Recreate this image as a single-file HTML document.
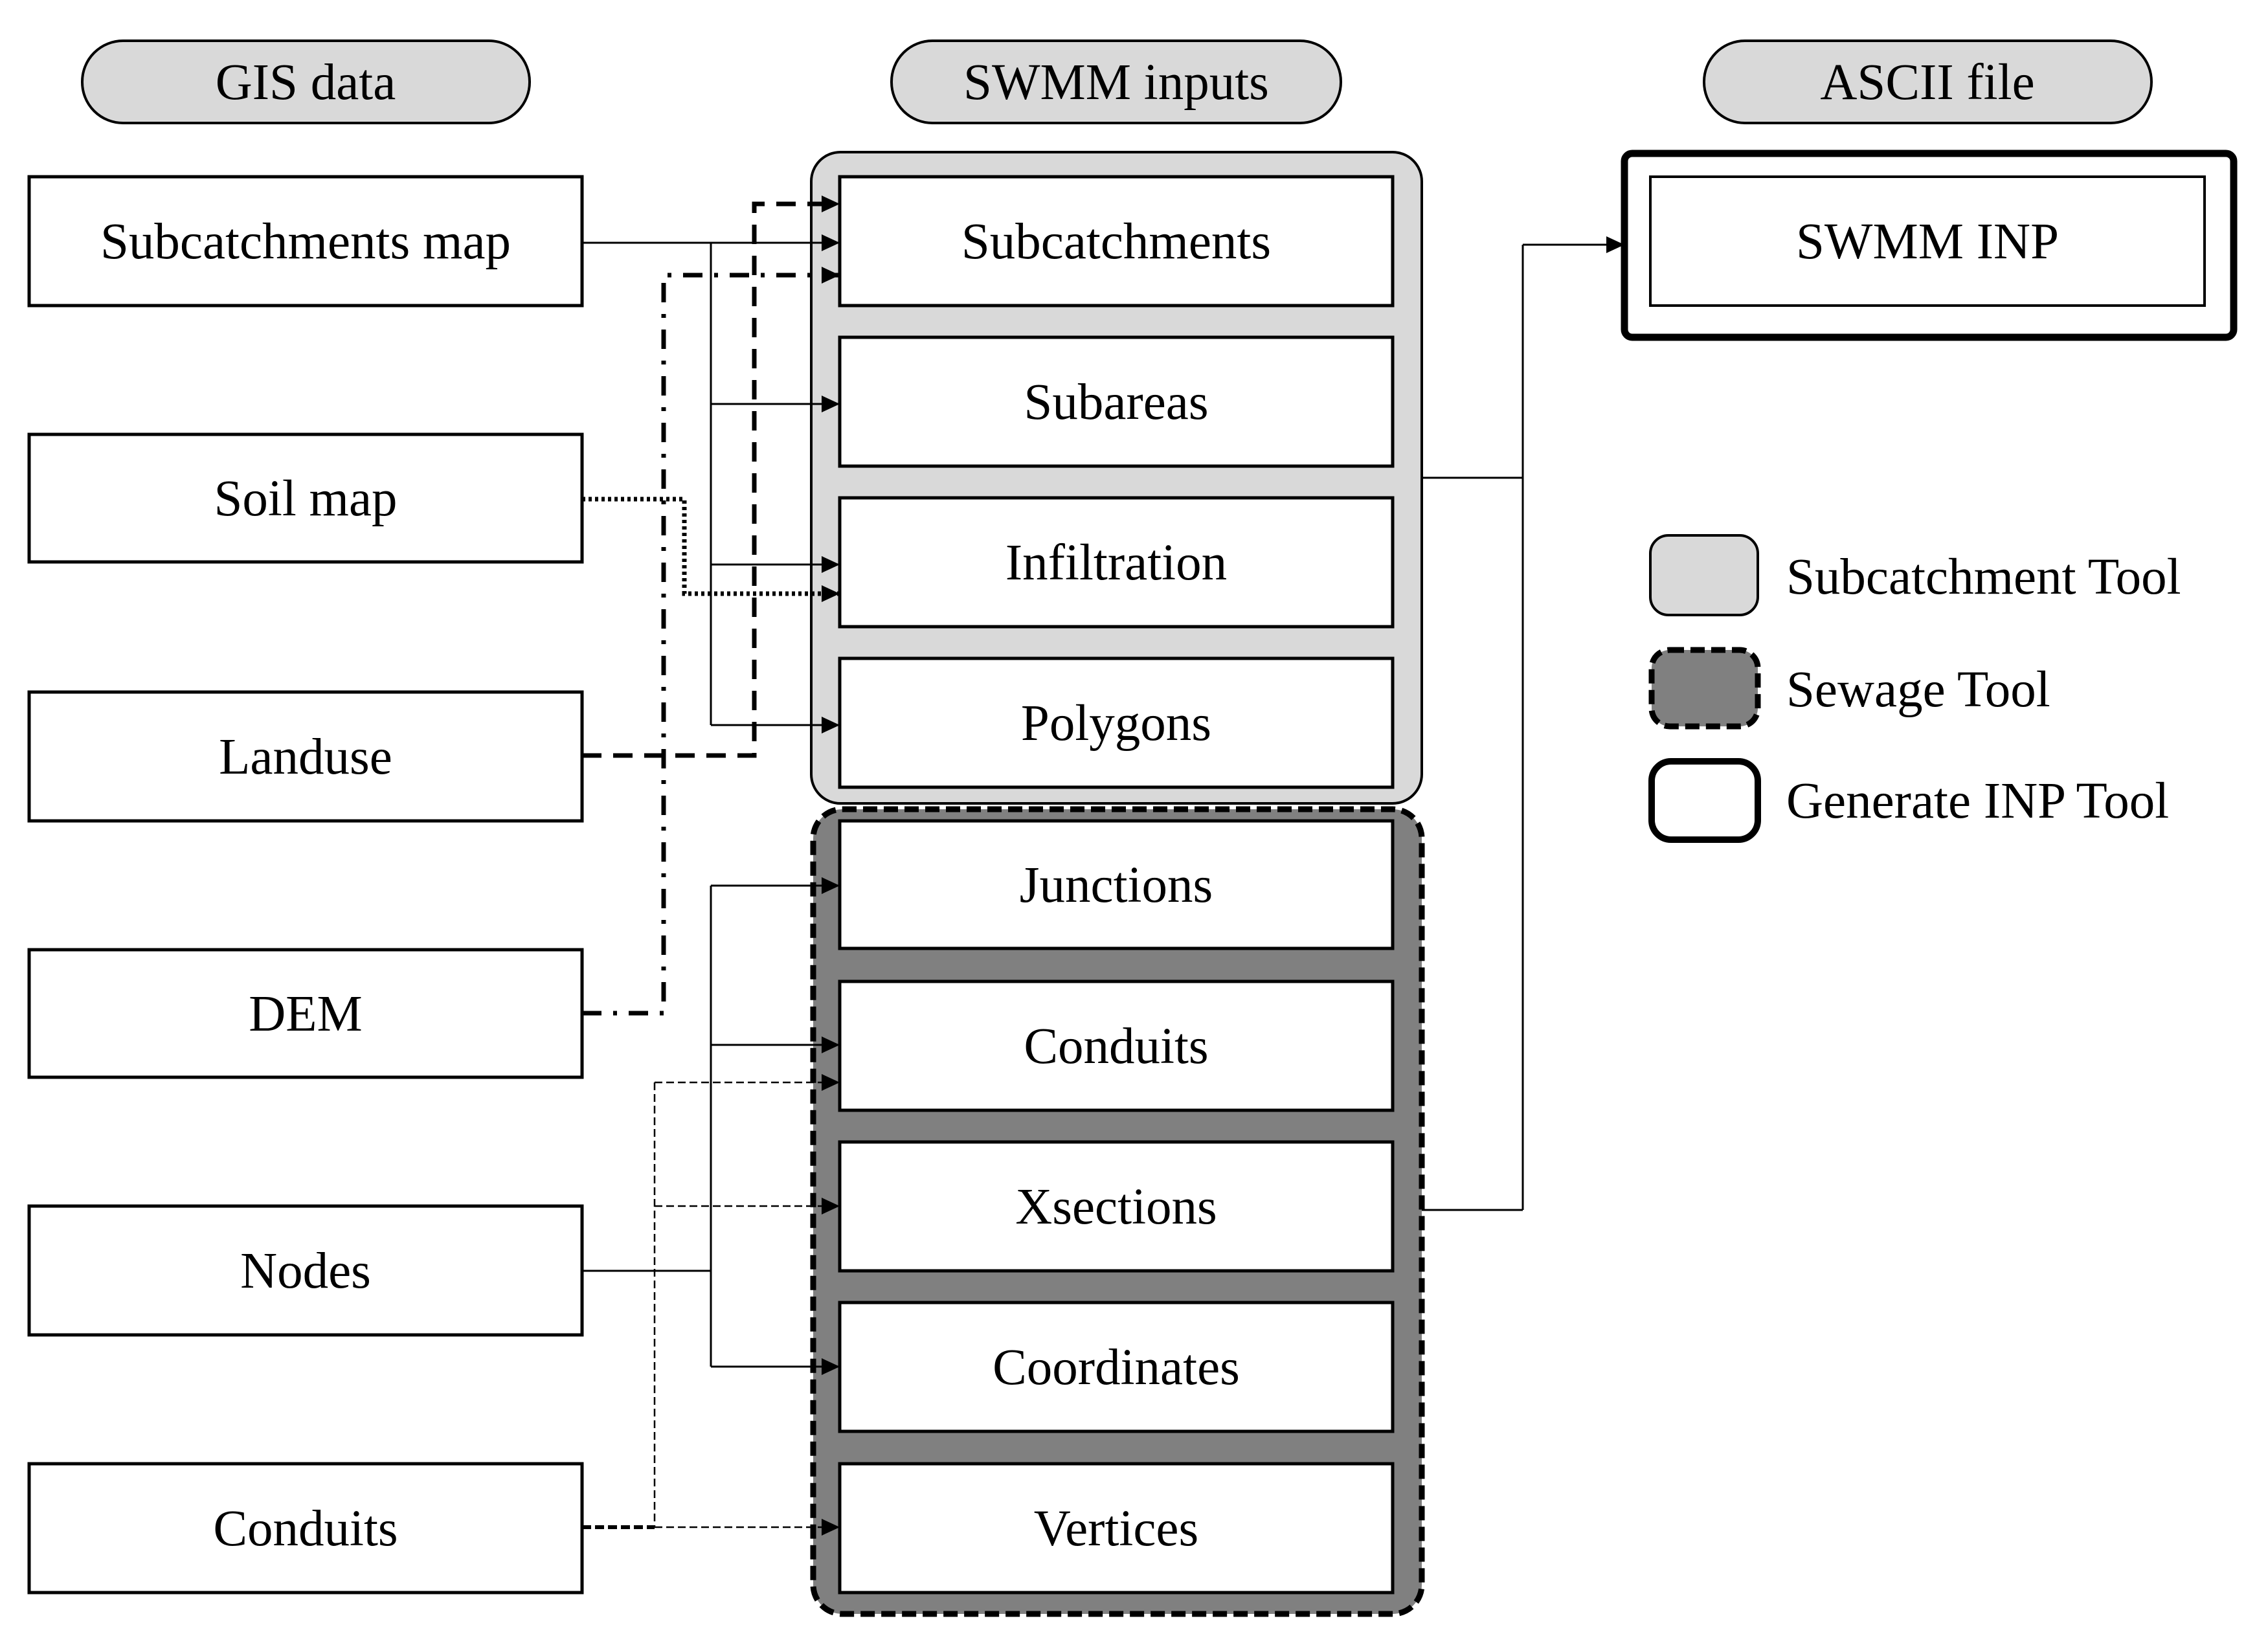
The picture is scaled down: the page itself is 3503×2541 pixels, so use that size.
<!DOCTYPE html>
<html><head><meta charset="utf-8"><style>
html,body{margin:0;padding:0;background:#fff}
svg{display:block}
text{font-family:"Liberation Serif",serif;font-size:79px;fill:#000}
</style></head><body>
<svg width="3503" height="2541" viewBox="0 0 3503 2541" xmlns="http://www.w3.org/2000/svg">
<defs>
<marker id="b" markerWidth="28" markerHeight="26" refX="28" refY="13" orient="auto" markerUnits="userSpaceOnUse"><path d="M0,0 L28,13 L0,26 z" fill="#000"/></marker>
</defs>

<rect x="127" y="63" width="691" height="127" rx="63" fill="#d9d9d9" stroke="#000" stroke-width="4"/>
<text x="472" y="153" text-anchor="middle">GIS data</text>
<rect x="1377" y="63" width="694" height="127" rx="63" fill="#d9d9d9" stroke="#000" stroke-width="4"/>
<text x="1724" y="153" text-anchor="middle">SWMM inputs</text>
<rect x="2632" y="63" width="691" height="127" rx="63" fill="#d9d9d9" stroke="#000" stroke-width="4"/>
<text x="2977" y="153" text-anchor="middle">ASCII file</text>

<g fill="#fff" stroke="#000" stroke-width="5">
<rect x="45" y="273" width="854" height="199"/>
<rect x="45" y="671" width="854" height="197"/>
<rect x="45" y="1069" width="854" height="199"/>
<rect x="45" y="1467" width="854" height="197"/>
<rect x="45" y="1863" width="854" height="199"/>
<rect x="45" y="2261" width="854" height="199"/>
</g>
<g text-anchor="middle">
<text x="472" y="399">Subcatchments map</text>
<text x="472" y="796">Soil map</text>
<text x="472" y="1195">Landuse</text>
<text x="472" y="1592">DEM</text>
<text x="472" y="1989">Nodes</text>
<text x="472" y="2387">Conduits</text>
</g>

<rect x="1253" y="235" width="943" height="1006" rx="45" fill="#d9d9d9" stroke="#000" stroke-width="4"/>
<rect x="1256" y="1250" width="940" height="1243" rx="45" fill="#808080" stroke="#000" stroke-width="9" stroke-dasharray="22,10"/>

<g fill="#fff" stroke="#000" stroke-width="5">
<rect x="1297" y="273" width="854" height="199"/>
<rect x="1297" y="521" width="854" height="199"/>
<rect x="1297" y="769" width="854" height="199"/>
<rect x="1297" y="1017" width="854" height="199"/>
<rect x="1297" y="1268" width="854" height="197"/>
<rect x="1297" y="1516" width="854" height="199"/>
<rect x="1297" y="1764" width="854" height="199"/>
<rect x="1297" y="2012" width="854" height="199"/>
<rect x="1297" y="2261" width="854" height="199"/>
</g>
<g text-anchor="middle">
<text x="1724" y="399">Subcatchments</text>
<text x="1724" y="647">Subareas</text>
<text x="1724" y="895">Infiltration</text>
<text x="1724" y="1143">Polygons</text>
<text x="1724" y="1393">Junctions</text>
<text x="1724" y="1642">Conduits</text>
<text x="1724" y="1890">Xsections</text>
<text x="1724" y="2138">Coordinates</text>
<text x="1724" y="2387">Vertices</text>
</g>

<rect x="2509" y="237" width="941" height="284" rx="12" fill="#fff" stroke="#000" stroke-width="11"/>
<rect x="2549" y="273" width="856" height="199" fill="#fff" stroke="#000" stroke-width="4"/>
<text x="2977" y="399" text-anchor="middle">SWMM INP</text>

<rect x="2549" y="827" width="166" height="123" rx="28" fill="#d9d9d9" stroke="#000" stroke-width="4"/>
<rect x="2551" y="1004" width="164" height="118" rx="28" fill="#808080" stroke="#000" stroke-width="9" stroke-dasharray="22,10"/>
<rect x="2551" y="1176" width="164" height="121" rx="30" fill="#fff" stroke="#000" stroke-width="10"/>
<text x="2759" y="917">Subcatchment Tool</text>
<text x="2759" y="1091">Sewage Tool</text>
<text x="2759" y="1263">Generate INP Tool</text>

<g fill="none" stroke="#000">
<g stroke-width="3">
<path d="M899,375 H1297" marker-end="url(#b)"/>
<path d="M1098,375 V1120"/>
<path d="M1098,624 H1297" marker-end="url(#b)"/>
<path d="M1098,872 H1297" marker-end="url(#b)"/>
<path d="M1098,1120 H1297" marker-end="url(#b)"/>
</g>
<path d="M899,1167 H1165 V315 H1297" stroke-width="7" stroke-dasharray="30,18" marker-end="url(#b)"/>
<path d="M899,1565 H1025 V425 H1297" stroke-width="7" stroke-dasharray="30,18,6,18" marker-end="url(#b)"/>
<path d="M899,771 H1057 V917 H1297" stroke-width="7" stroke-dasharray="5,5" marker-end="url(#b)"/>
<g stroke-width="3">
<path d="M899,1963 H1098"/>
<path d="M1098,1368 V2111"/>
<path d="M1098,1368 H1297" marker-end="url(#b)"/>
<path d="M1098,1614 H1297" marker-end="url(#b)"/>
<path d="M1098,2111 H1297" marker-end="url(#b)"/>
</g>
<path d="M899,2359 H1011" stroke-width="6" stroke-dasharray="14,6"/>
<g stroke-width="2.5" stroke-dasharray="12,6">
<path d="M1011,1672 V2359"/>
<path d="M1011,2359 H1297" marker-end="url(#b)"/>
<path d="M1011,1672 H1297" marker-end="url(#b)"/>
<path d="M1011,1863 H1297" marker-end="url(#b)"/>
</g>
<g stroke-width="3">
<path d="M2196,738 H2352"/>
<path d="M2196,1869 H2352"/>
<path d="M2352,1869 V378"/>
<path d="M2352,378 H2509" marker-end="url(#b)"/>
</g>
</g>
</svg>
</body></html>
